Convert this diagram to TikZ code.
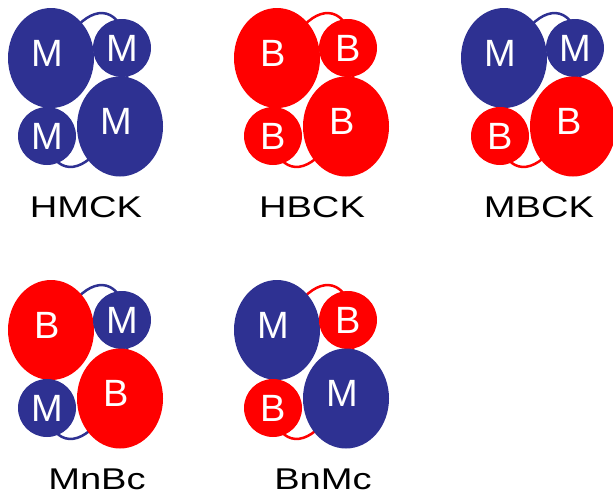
\documentclass[tikz,border=0pt]{standalone}
\usepackage{fontspec}
\setmainfont{Liberation Sans}
\usetikzlibrary{shapes.geometric}
\definecolor{mblue}{RGB}{46,49,146}
\definecolor{bred}{RGB}{255,0,0}
\tikzset{
  big/.style={ellipse, inner sep=0pt, minimum width=86pt, minimum height=100pt},
  small/.style={circle, inner sep=0pt, minimum size=58pt},
  letter/.style={text=white, font=\fontsize{38}{38}\selectfont},
  bigM/.style={big, fill=mblue, label={[letter,xshift=-4pt,yshift=5pt]center:M}},
  bigB/.style={big, fill=bred, label={[letter,xshift=-4pt,yshift=5pt]center:B}},
  smallM/.style={small, fill=mblue, label={[letter]center:M}},
  smallB/.style={small, fill=bred, label={[letter]center:B}},
  tag/.style={anchor=base, font=\fontsize{30}{30}\selectfont, xscale=1.27},
  ring/.style={line width=2.5pt}
}
\begin{document}
\begin{tikzpicture}[x=1pt,y=-1pt]
  \useasboundingbox (0,0) rectangle (613,501);
  %\draw [help lines] (0,0) grid (613,501);
  % HMCK
  \begin{scope}[shift={(51,58)}]
    \begin{scope}[shift={(35,32)}, rotate=-15]
      \draw [ring, mblue] (38pt,0pt) arc [start angle=0, end angle=180, x radius=38pt, y radius=79pt];
      \draw [ring, mblue] (38pt,0pt) arc [start angle=0, end angle=-180, x radius=38pt, y radius=79pt];
    \end{scope}
    \node (hmckA) [bigM] at (0,0) {};
    \node (hmckB) [smallM] at (71,-10) {};
    \node (hmckC) [smallM] at (-4,78) {};
    \node (hmckD) [bigM] at (69,68.5) {};
    \node (hmckT) [tag] at (35,159) {HMCK};
  \end{scope}
  % HBCK
  \begin{scope}[shift={(277,58)}]
    \begin{scope}[shift={(35,32)}, rotate=-15]
      \draw [ring, bred] (38pt,0pt) arc [start angle=0, end angle=180, x radius=38pt, y radius=79pt];
      \draw [ring, bred] (38pt,0pt) arc [start angle=0, end angle=-180, x radius=38pt, y radius=79pt];
    \end{scope}
    \node (hbckA) [bigB] at (0,0) {};
    \node (hbckB) [smallB] at (71,-10) {};
    \node (hbckC) [smallB] at (-4,78) {};
    \node (hbckD) [bigB] at (69,68.5) {};
    \node (hbckT) [tag] at (35,159) {HBCK};
  \end{scope}
  % MBCK
  \begin{scope}[shift={(504,58)}]
    \begin{scope}[shift={(35,32)}, rotate=-15]
      \draw [ring, mblue] (38pt,0pt) arc [start angle=0, end angle=180, x radius=38pt, y radius=79pt];
      \draw [ring, bred] (38pt,0pt) arc [start angle=0, end angle=-180, x radius=38pt, y radius=79pt];
    \end{scope}
    \node (mbckA) [bigM] at (0,0) {};
    \node (mbckB) [smallM] at (71,-10) {};
    \node (mbckC) [smallB] at (-4,78) {};
    \node (mbckD) [bigB] at (69,68.5) {};
    \node (mbckT) [tag] at (35,159) {MBCK};
  \end{scope}
  % MnBc
  \begin{scope}[shift={(51,330)}]
    \begin{scope}[shift={(35,32)}, rotate=-15]
      \draw [ring, mblue] (38pt,0pt) arc [start angle=0, end angle=180, x radius=38pt, y radius=79pt];
      \draw [ring, mblue] (38pt,0pt) arc [start angle=0, end angle=-180, x radius=38pt, y radius=79pt];
    \end{scope}
    \node (mnbcA) [bigB] at (0,0) {};
    \node (mnbcB) [smallM] at (71,-10) {};
    \node (mnbcC) [smallM] at (-4,78) {};
    \node (mnbcD) [bigB] at (69,68.5) {};
    \node (mnbcT) [tag] at (46,159) {MnBc};
  \end{scope}
  % BnMc
  \begin{scope}[shift={(277,330)}]
    \begin{scope}[shift={(35,32)}, rotate=-15]
      \draw [ring, bred] (38pt,0pt) arc [start angle=0, end angle=180, x radius=38pt, y radius=79pt];
      \draw [ring, bred] (38pt,0pt) arc [start angle=0, end angle=-180, x radius=38pt, y radius=79pt];
    \end{scope}
    \node (bnmcA) [bigM] at (0,0) {};
    \node (bnmcB) [smallB] at (71,-10) {};
    \node (bnmcC) [smallB] at (-4,78) {};
    \node (bnmcD) [bigM] at (69,68.5) {};
    \node (bnmcT) [tag] at (46,159) {BnMc};
  \end{scope}
\end{tikzpicture}
\end{document}
